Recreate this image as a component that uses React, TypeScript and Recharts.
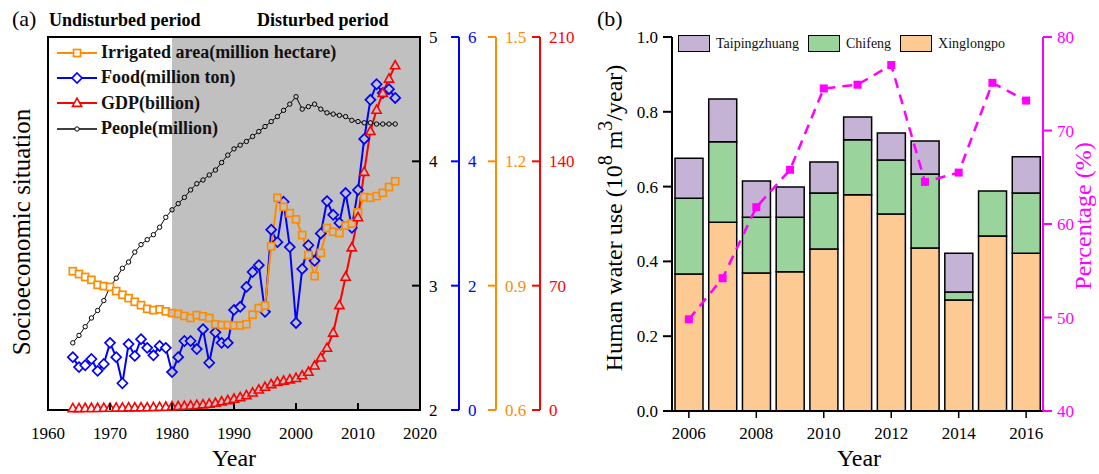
import React from 'react'
import { LineChart, ComposedChart, Line, Bar, XAxis, YAxis, ReferenceArea, Legend } from 'recharts'

const FONT = '"Liberation Serif", "Times New Roman", serif'
const ORANGE = '#ff8c00'
const BLUE = '#0000ff'
const RED = '#ff0000'
const MAGENTA = '#ff00ff'
const GRAY = '#c0c0c0'

// ---- panel (a) ----
const years = [
  1964, 1965, 1966, 1967, 1968, 1969, 1970, 1971, 1972, 1973,
  1974, 1975, 1976, 1977, 1978, 1979, 1980, 1981, 1982, 1983,
  1984, 1985, 1986, 1987, 1988, 1989, 1990, 1991, 1992, 1993,
  1994, 1995, 1996, 1997, 1998, 1999, 2000, 2001, 2002, 2003,
  2004, 2005, 2006, 2007, 2008, 2009, 2010, 2011, 2012, 2013,
  2014, 2015, 2016,
]
const people = [
  2.54, 2.6, 2.67, 2.74, 2.8, 2.88, 2.99, 3.06, 3.14, 3.19,
  3.27, 3.33, 3.37, 3.41, 3.47, 3.55, 3.61, 3.66, 3.71, 3.77,
  3.82, 3.85, 3.89, 3.93, 3.99, 4.05, 4.1, 4.13, 4.16, 4.2,
  4.24, 4.28, 4.32, 4.36, 4.41, 4.46, 4.52, 4.42, 4.44, 4.46,
  4.42, 4.39, 4.38, 4.37, 4.36, 4.33, 4.32, 4.31, 4.31, 4.3,
  4.3, 4.3, 4.3,
]
const irrigated = [
  0.935, 0.928, 0.921, 0.914, 0.902, 0.899, 0.897, 0.887, 0.878, 0.87,
  0.861, 0.853, 0.844, 0.841, 0.843, 0.838, 0.834, 0.832, 0.827, 0.822,
  0.829, 0.826, 0.822, 0.807, 0.805, 0.805, 0.804, 0.804, 0.807, 0.83,
  0.846, 0.852, 0.995, 1.112, 1.09, 1.075, 1.06, 1.022, 0.974, 0.923,
  0.979, 1.039, 1.03, 1.027, 1.045, 1.05, 1.077, 1.114, 1.112, 1.116,
  1.124, 1.138, 1.152,
]
const food = [
  0.85, 0.69, 0.72, 0.82, 0.63, 0.74, 1.08, 0.85, 0.43, 1.06,
  0.87, 1.14, 1.0, 0.88, 1.03, 1.0, 0.61, 0.85, 1.11, 1.11,
  0.98, 1.3, 0.76, 1.25, 1.08, 1.08, 1.61, 1.66, 1.98, 2.22,
  2.33, 1.58, 2.9, 2.7, 3.35, 2.62, 1.4, 2.27, 2.65, 2.4,
  2.84, 3.36, 3.14, 3.01, 3.49, 2.93, 3.54, 4.36, 4.99, 5.24,
  5.1, 5.16, 5.02,
]
const gdp = [
  1.0, 1.0, 1.1, 1.1, 1.1, 1.2, 1.2, 1.3, 1.3, 1.4,
  1.4, 1.5, 1.5, 1.6, 1.7, 1.8, 2.0, 2.1, 2.3, 2.5,
  2.8, 3.1, 3.5, 4.0, 4.8, 5.5, 6.3, 7.2, 8.3, 9.8,
  11.5, 13.0, 14.5, 15.8, 16.5, 17.2, 18.0, 19.5, 21.5, 25.0,
  29.5, 35.0, 43.5, 59.0, 75.0, 91.5, 108.5, 134.0, 157.0, 169.0,
  178.5, 186.5, 194.0,
]
const yearTicksA = [1960, 1970, 1980, 1990, 2000, 2010, 2020]
const peopleTicks = [2, 3, 4, 5]
const foodTicks = [0, 2, 4, 6]
const irrigatedTicks = [0.6, 0.9, 1.2, 1.5]
const gdpTicks = [0, 70, 140, 210]

// ---- panel (b) ----
const waterYears = ['2006', '2007', '2008', '2009', '2010', '2011', '2012', '2013', '2014', '2015', '2016']
const xinglongpo = [0.366, 0.505, 0.369, 0.372, 0.433, 0.578, 0.527, 0.436, 0.297, 0.468, 0.422]
const chifeng = [0.203, 0.215, 0.149, 0.146, 0.15, 0.147, 0.144, 0.198, 0.021, 0.12, 0.161]
const taipingzhuang = [0.107, 0.114, 0.097, 0.081, 0.083, 0.061, 0.072, 0.088, 0.104, 0, 0.097]
const percentage = [49.8, 54.2, 61.8, 65.8, 74.5, 74.9, 77.0, 64.5, 65.5, 75.1, 73.2]
const waterTicks = [0, 0.2, 0.4, 0.6, 0.8, 1.0]
const pctTicks = [40, 50, 60, 70, 80]

const dataA = years.map((year, i) => ({
  year,
  people: people[i],
  irrigated: irrigated[i],
  food: food[i],
  gdp: gdp[i],
}))

const dataB = waterYears.map((year, i) => ({
  year,
  xinglongpo: xinglongpo[i],
  chifeng: chifeng[i],
  taipingzhuang: taipingzhuang[i],
  pct: percentage[i],
}))

function Marker({ kind, cx, cy, color, fill }: any) {
  if (kind === 'square')
    return <rect x={cx - 3.5} y={cy - 3.5} width={7} height={7} fill={fill} stroke={color} strokeWidth={1.7} />
  if (kind === 'diamond')
    return (
      <path
        d={`M${cx},${cy - 5}L${cx + 5},${cy}L${cx},${cy + 5}L${cx - 5},${cy}Z`}
        fill={fill}
        stroke={color}
        strokeWidth={1.7}
      />
    )
  if (kind === 'triangle')
    return (
      <path
        d={`M${cx},${cy - 4.8}L${cx + 4.6},${cy + 3.4}L${cx - 4.6},${cy + 3.4}Z`}
        fill={fill}
        stroke={color}
        strokeWidth={1.6}
      />
    )
  return <circle cx={cx} cy={cy} r={2.2} fill={fill} stroke={color} strokeWidth={1} />
}

const dotFor = (kind: string, color: string) => (props: any) => {
  const { cx, cy, index, payload } = props
  if (cx == null || cy == null) return <g key={`d-${index}`} />
  const bg = payload.year >= 1980 ? GRAY : '#fff'
  return <Marker key={`d-${index}`} kind={kind} cx={cx} cy={cy} color={color} fill={bg} />
}

// tick pointing inward (to the left) with label on the right
const rightTick = (color: string, fmt: (v: number) => string) => (props: any) => {
  const { x, y, payload } = props
  return (
    <g>
      <line x1={x - 8} x2={x} y1={y} y2={y} stroke={color} strokeWidth={2} />
      <text x={x + 9} y={y} dy="0.35em" fill={color} fontSize={17} fontFamily={FONT}>
        {fmt(payload.value)}
      </text>
    </g>
  )
}

const bottomInTick = (props: any) => {
  const { x, y, payload } = props
  return (
    <g>
      <line x1={x} x2={x} y1={y - 7} y2={y} stroke="#000" strokeWidth={2} />
      <text x={x} y={y + 29} textAnchor="middle" fill="#000" fontSize={17} fontFamily={FONT}>
        {payload.value}
      </text>
    </g>
  )
}

const legendA = [
  { label: 'Irrigated area(million hectare)', color: ORANGE, kind: 'square', w: 2 },
  { label: 'Food(million ton)', color: BLUE, kind: 'diamond', w: 2 },
  { label: 'GDP(billion)', color: RED, kind: 'triangle', w: 2 },
  { label: 'People(million)', color: '#000', kind: 'circle', w: 1.6 },
]

function LegendA() {
  return (
    <div style={{ fontFamily: FONT, fontWeight: 'bold', fontSize: 18, color: '#111' }}>
      {legendA.map((it) => (
        <div key={it.label} style={{ display: 'flex', alignItems: 'center', height: 25.3 }}>
          <svg width={44} height={14}>
            <line x1={2} x2={42} y1={7} y2={7} stroke={it.color} strokeWidth={it.w} />
            <Marker kind={it.kind} cx={22} cy={7} color={it.color} fill="#fff" />
          </svg>
          <span style={{ marginLeft: 2, whiteSpace: 'nowrap' }}>{it.label}</span>
        </div>
      ))}
    </div>
  )
}

const legendB = [
  { label: 'Taipingzhuang', fill: '#c5b3d6' },
  { label: 'Chifeng', fill: '#9ad49c' },
  { label: 'Xinglongpo', fill: '#fdca93' },
]

function LegendB() {
  return (
    <div style={{ display: 'flex', alignItems: 'center', fontFamily: FONT, fontSize: 14, color: '#111' }}>
      {legendB.map((it) => (
        <div key={it.label} style={{ display: 'flex', alignItems: 'center', marginRight: 9 }}>
          <div
            style={{ width: 30, height: 15, background: it.fill, border: '1.5px solid #000', boxSizing: 'content-box' }}
          />
          <span style={{ marginLeft: 6, whiteSpace: 'nowrap' }}>{it.label}</span>
        </div>
      ))}
    </div>
  )
}

function PanelA() {
  return (
    <LineChart width={590} height={474} data={dataA} margin={{ top: 37, right: 0, bottom: 34, left: 48 }}>
      <XAxis
        dataKey="year"
        type="number"
        domain={[1960, 2020]}
        ticks={yearTicksA}
        tick={bottomInTick}
        tickSize={0}
        tickMargin={0}
        tickLine={false}
        axisLine={{ stroke: '#000', strokeWidth: 2 }}
        height={30}
      />
      {/* frame left side */}
      <YAxis yAxisId="frame" domain={[2, 5]} width={0} tick={false} tickLine={false} axisLine={{ stroke: '#000', strokeWidth: 2 }} />
      {/* right-hand axes, ids sorted so they stack outward in this order */}
      <YAxis
        yAxisId="a_people"
        orientation="right"
        domain={[2, 5]}
        ticks={peopleTicks}
        width={39}
        tickSize={0}
        tickMargin={0}
        tickLine={false}
        tick={rightTick('#000', (v) => String(v))}
        axisLine={{ stroke: '#000', strokeWidth: 2 }}
      />
      <YAxis
        yAxisId="b_food"
        orientation="right"
        domain={[0, 6]}
        ticks={foodTicks}
        width={37}
        tickSize={0}
        tickMargin={0}
        tickLine={false}
        tick={rightTick(BLUE, (v) => String(v))}
        axisLine={{ stroke: BLUE, strokeWidth: 2 }}
      />
      <YAxis
        yAxisId="c_irr"
        orientation="right"
        domain={[0.6, 1.5]}
        ticks={irrigatedTicks}
        width={44}
        tickSize={0}
        tickMargin={0}
        tickLine={false}
        tick={rightTick(ORANGE, (v) => v.toFixed(1))}
        axisLine={{ stroke: ORANGE, strokeWidth: 2 }}
      />
      <YAxis
        yAxisId="d_gdp"
        orientation="right"
        domain={[0, 210]}
        ticks={gdpTicks}
        width={50}
        tickSize={0}
        tickMargin={0}
        tickLine={false}
        tick={rightTick(RED, (v) => String(v))}
        axisLine={{ stroke: RED, strokeWidth: 2 }}
      />
      <ReferenceArea yAxisId="a_people" x1={1980} x2={2020} y1={2} y2={5} fill={GRAY} fillOpacity={1} stroke="none" />
      <ReferenceArea
        yAxisId="a_people"
        x1={1960}
        x2={2020}
        y1={2}
        y2={5}
        fill="none"
        fillOpacity={0}
        stroke="#000"
        strokeWidth={2}
      />
      <Line
        yAxisId="a_people"
        dataKey="people"
        stroke="#000"
        strokeWidth={1}
        dot={dotFor('circle', '#000')}
        isAnimationActive={false}
      />
      <Line
        yAxisId="b_food"
        dataKey="food"
        stroke={BLUE}
        strokeWidth={2}
        dot={dotFor('diamond', BLUE)}
        isAnimationActive={false}
      />
      <Line
        yAxisId="c_irr"
        dataKey="irrigated"
        stroke={ORANGE}
        strokeWidth={2}
        dot={dotFor('square', ORANGE)}
        isAnimationActive={false}
      />
      <Line
        yAxisId="d_gdp"
        dataKey="gdp"
        stroke={RED}
        strokeWidth={2}
        dot={dotFor('triangle', RED)}
        isAnimationActive={false}
      />
      <Legend
        layout="vertical"
        align="center"
        verticalAlign="middle"
        content={<LegendA />}
        wrapperStyle={{ left: 55, top: 40, width: 'auto' }}
      />
    </LineChart>
  )
}

const pctDot = (props: any) => {
  const { cx, cy, index } = props
  if (cx == null || cy == null) return <g key={`p-${index}`} />
  return <rect key={`p-${index}`} x={cx - 4} y={cy - 4} width={8} height={8} fill={MAGENTA} />
}

function PanelB() {
  return (
    <ComposedChart width={509} height={474} data={dataB} margin={{ top: 37, right: 0, bottom: 33, left: 32 }}>
      <XAxis
        dataKey="year"
        interval={1}
        tickSize={7}
        tickMargin={9}
        tick={{ fontSize: 17, fill: '#000', fontFamily: FONT }}
        tickLine={{ stroke: '#000', strokeWidth: 1.5 }}
        axisLine={{ stroke: '#000', strokeWidth: 2 }}
        height={30}
      />
      <YAxis
        yAxisId="w"
        domain={[0, 1]}
        ticks={waterTicks}
        tickFormatter={(v) => v.toFixed(1)}
        width={50}
        tickSize={9}
        tickMargin={5}
        tick={{ fontSize: 17, fill: '#000', fontFamily: FONT }}
        tickLine={{ stroke: '#000', strokeWidth: 2 }}
        axisLine={{ stroke: '#000', strokeWidth: 2 }}
      />
      <YAxis
        yAxisId="p"
        orientation="right"
        domain={[40, 80]}
        ticks={pctTicks}
        width={56}
        tickSize={9}
        tickMargin={5}
        tick={{ fontSize: 17, fill: MAGENTA, fontFamily: FONT }}
        tickLine={{ stroke: MAGENTA, strokeWidth: 2 }}
        axisLine={{ stroke: MAGENTA, strokeWidth: 2 }}
      />
      <Bar yAxisId="w" dataKey="xinglongpo" stackId="s" barSize={28} fill="#fdca93" stroke="#000" strokeWidth={1.5} isAnimationActive={false} />
      <Bar yAxisId="w" dataKey="chifeng" stackId="s" barSize={28} fill="#9ad49c" stroke="#000" strokeWidth={1.5} isAnimationActive={false} />
      <Bar yAxisId="w" dataKey="taipingzhuang" stackId="s" barSize={28} fill="#c5b3d6" stroke="#000" strokeWidth={1.5} isAnimationActive={false} />
      <Line
        yAxisId="p"
        dataKey="pct"
        stroke={MAGENTA}
        strokeWidth={2.5}
        strokeDasharray="10 7"
        dot={pctDot}
        isAnimationActive={false}
      />
      <Legend
        layout="vertical"
        align="center"
        verticalAlign="middle"
        content={<LegendB />}
        wrapperStyle={{ left: 88, top: 35, width: 'auto' }}
      />
    </ComposedChart>
  )
}

export default function App() {
  return (
    <div
      style={{ position: 'absolute', left: 0, top: 0, width: 1099, height: 474, background: '#fff', fontFamily: FONT }}
    >
      <style>{`svg text, svg tspan { font-family: "Liberation Serif", "Times New Roman", serif !important; }`}</style>
      <div style={{ position: 'absolute', left: 0, top: 0 }}>
        <PanelA />
      </div>
      <div style={{ position: 'absolute', left: 590, top: 0 }}>
        <PanelB />
      </div>
      <svg
        width={1099}
        height={474}
        style={{ position: 'absolute', left: 0, top: 0, pointerEvents: 'none' }}
        fontFamily={FONT}
      >
        <text x={12} y={26} fontSize={22} fill="#000">(a)</text>
        <text x={49} y={26} fontSize={18} fontWeight="bold" fill="#000">Undisturbed period</text>
        <text x={257} y={26} fontSize={18} fontWeight="bold" fill="#000">Disturbed period</text>
        <text transform="translate(30,232) rotate(-90)" textAnchor="middle" fontSize={25} fill="#000">
          Socioeconomic situation
        </text>
        <text x={234} y={466} textAnchor="middle" fontSize={24} fill="#000">Year</text>

        <text x={597} y={26} fontSize={22} fill="#000">(b)</text>
        <text transform="translate(622,218) rotate(-90)" textAnchor="middle" fontSize={24} fill="#000">
          Human water use (10
          <tspan fontSize={20} dy={-10}>8</tspan>
          <tspan dy={10}> m</tspan>
          <tspan fontSize={20} dy={-10}>3</tspan>
          <tspan dy={10}>/year)</tspan>
        </text>
        <text x={859} y={466} textAnchor="middle" fontSize={24} fill="#000">Year</text>
        <text transform="translate(1091,216) rotate(-90)" textAnchor="middle" fontSize={24} fill={MAGENTA}>
          Percentage (%)
        </text>
      </svg>
    </div>
  )
}
